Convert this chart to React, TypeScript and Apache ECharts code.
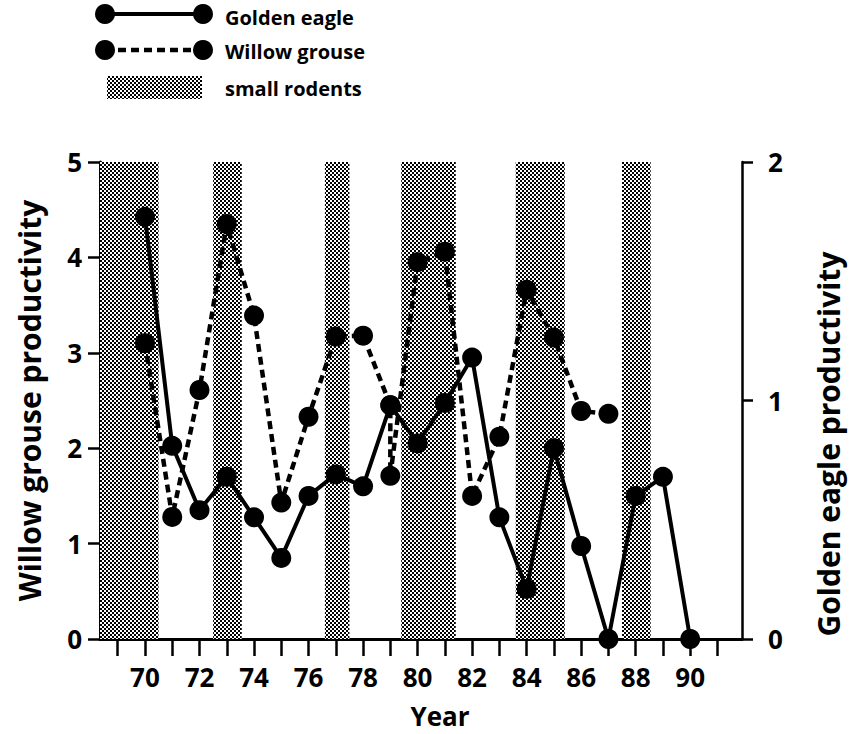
import React, { useEffect, useRef } from 'react';
import * as echarts from 'echarts';

const eagleYears = [70, 71, 72, 73, 74, 75, 76, 77, 78, 79, 80, 81, 82, 83, 84, 85, 86, 87, 88, 89, 90];
const eagleValues = [1.77, 0.81, 0.54, 0.68, 0.51, 0.34, 0.6, 0.69, 0.64, 0.98, 0.82, 0.99, 1.18, 0.51, 0.21, 0.8, 0.39, 0, 0.6, 0.68, 0];
const grouseYears = [70, 71, 72, 73, 74, 75, 76, 77, 78, 79, 79, 80, 81, 82, 83, 84, 85, 86, 87];
const grouseValues = [3.1, 1.28, 2.61, 4.35, 3.39, 1.43, 2.33, 3.17, 3.18, 2.45, 1.71, 3.95, 4.06, 1.5, 2.12, 3.66, 3.16, 2.39, 2.36];
const rodentStart = [68.35, 72.5, 76.6, 79.4, 83.6, 87.5];
const rodentEnd = [70.5, 73.55, 77.5, 81.4, 85.4, 88.55];
const yearTicks = [69, 70, 71, 72, 73, 74, 75, 76, 77, 78, 79, 80, 81, 82, 83, 84, 85, 86, 87, 88, 89, 90, 91];
const yearLabels = [70, 72, 74, 76, 78, 80, 82, 84, 86, 88, 90];
const xMin = 68.35;
const xMax = 91.9;

const FONT = '"Open Sans", "DejaVu Sans", sans-serif';

function makePattern() {
  const c = document.createElement('canvas');
  c.width = 4;
  c.height = 4;
  const ctx = c.getContext('2d')!;
  ctx.fillStyle = '#ffffff';
  ctx.fillRect(0, 0, 4, 4);
  ctx.fillStyle = '#000000';
  ctx.fillRect(0, 0, 2, 2);
  ctx.fillRect(2, 2, 2, 2);
  return { image: c, repeat: 'repeat' } as any;
}

export default function App() {
  const ref = useRef<HTMLDivElement>(null);
  useEffect(() => {
    const chart = echarts.init(ref.current!, null, { renderer: 'svg' });
    const pattern = makePattern();
    const labelStyle = { color: '#000', fontFamily: FONT, fontWeight: 'bold' as const, fontSize: 26 };
    chart.setOption({
      animation: false,
      backgroundColor: '#fff',
      grid: { left: 100, top: 162, width: 642, height: 477, containLabel: false, outerBoundsMode: 'none' },
      xAxis: [
        {
          type: 'value',
          min: xMin,
          max: xMax,
          position: 'bottom',
          name: 'Year',
          nameLocation: 'middle',
          nameGap: 64,
          nameTextStyle: { ...labelStyle, fontSize: 26, padding: [0, 0, 0, 38] },
          axisLine: { show: true, lineStyle: { color: '#000', width: 3 } },
          axisTick: { show: true, inside: false, length: 17, lineStyle: { color: '#000', width: 2.5 }, customValues: yearTicks },
          axisLabel: { ...labelStyle, margin: 25, customValues: yearLabels },
          splitLine: { show: false },
        },
        {
          type: 'value',
          min: xMin,
          max: xMax,
          position: 'top',
          axisLine: { show: true, lineStyle: { color: '#000', width: 2.5 } },
          axisTick: { show: false },
          axisLabel: { show: false },
          splitLine: { show: false },
        },
      ],
      yAxis: [
        {
          type: 'value',
          min: 0,
          max: 5,
          interval: 1,
          position: 'left',
          name: 'Willow grouse productivity',
          nameLocation: 'middle',
          nameGap: 56,
          nameRotate: 90,
          nameTextStyle: { ...labelStyle, fontSize: 30 },
          axisLine: { show: true, lineStyle: { color: '#000', width: 3 } },
          axisTick: { show: true, inside: false, length: 12, lineStyle: { color: '#000', width: 2.5 } },
          axisLabel: { ...labelStyle, margin: 18 },
          splitLine: { show: false },
        },
        {
          type: 'value',
          min: 0,
          max: 2,
          interval: 1,
          position: 'right',
          axisLine: { show: true, lineStyle: { color: '#000', width: 2.5 } },
          axisTick: { show: true, inside: false, length: 11, lineStyle: { color: '#000', width: 2.5 } },
          axisLabel: { ...labelStyle, margin: 26 },
          splitLine: { show: false },
        },
      ],
      graphic: [
        {
          type: 'text',
          x: 828,
          y: 444,
          rotation: Math.PI / 2,
          style: {
            text: 'Golden eagle productivity',
            fill: '#000',
            font: `bold 30px ${FONT}`,
            textAlign: 'center',
            textVerticalAlign: 'middle',
          },
        },
        { type: 'line', shape: { x1: 105, y1: 14, x2: 203, y2: 14 }, style: { stroke: '#000', lineWidth: 4 } },
        { type: 'circle', shape: { cx: 105, cy: 14, r: 10 }, style: { fill: '#000' } },
        { type: 'circle', shape: { cx: 203, cy: 14, r: 10 }, style: { fill: '#000' } },
        { type: 'text', x: 225, y: 17, style: { text: 'Golden eagle', fill: '#000', font: `bold 20px ${FONT}`, textVerticalAlign: 'middle' } },
        { type: 'line', shape: { x1: 105, y1: 50, x2: 203, y2: 50 }, style: { stroke: '#000', lineWidth: 4.5, lineDash: [8, 5] } },
        { type: 'circle', shape: { cx: 105, cy: 50, r: 10 }, style: { fill: '#000' } },
        { type: 'circle', shape: { cx: 203, cy: 50, r: 10 }, style: { fill: '#000' } },
        { type: 'text', x: 225, y: 51, style: { text: 'Willow grouse', fill: '#000', font: `bold 20px ${FONT}`, textVerticalAlign: 'middle' } },
        { type: 'rect', shape: { x: 107, y: 76, width: 95, height: 23 }, style: { fill: pattern } },
        { type: 'text', x: 225, y: 88, style: { text: 'small rodents', fill: '#000', font: `bold 20px ${FONT}`, textVerticalAlign: 'middle' } },
      ],
      series: [
        {
          name: 'small rodents',
          type: 'line',
          xAxisIndex: 0,
          yAxisIndex: 0,
          data: [],
          silent: true,
          markArea: {
            silent: true,
            itemStyle: { color: pattern, borderWidth: 0 },
            data: rodentStart.map((s, i) => [{ xAxis: s }, { xAxis: rodentEnd[i] }]),
          },
        },
        {
          name: 'Willow grouse',
          type: 'line',
          xAxisIndex: 0,
          yAxisIndex: 0,
          data: grouseYears.map((y, i) => [y, grouseValues[i]]),
          symbol: 'circle',
          symbolSize: 20,
          itemStyle: { color: '#000' },
          lineStyle: { color: '#000', width: 4.5, type: [8, 5] },
          z: 3,
        },
        {
          name: 'Golden eagle',
          type: 'line',
          xAxisIndex: 0,
          yAxisIndex: 1,
          data: eagleYears.map((y, i) => [y, eagleValues[i]]),
          symbol: 'circle',
          symbolSize: 20,
          itemStyle: { color: '#000' },
          lineStyle: { color: '#000', width: 4 },
          z: 4,
        },
      ],
    });
    return () => chart.dispose();
  }, []);
  return <div ref={ref} style={{ position: 'fixed', left: 0, top: 0, width: 853, height: 734 }} />;
}
